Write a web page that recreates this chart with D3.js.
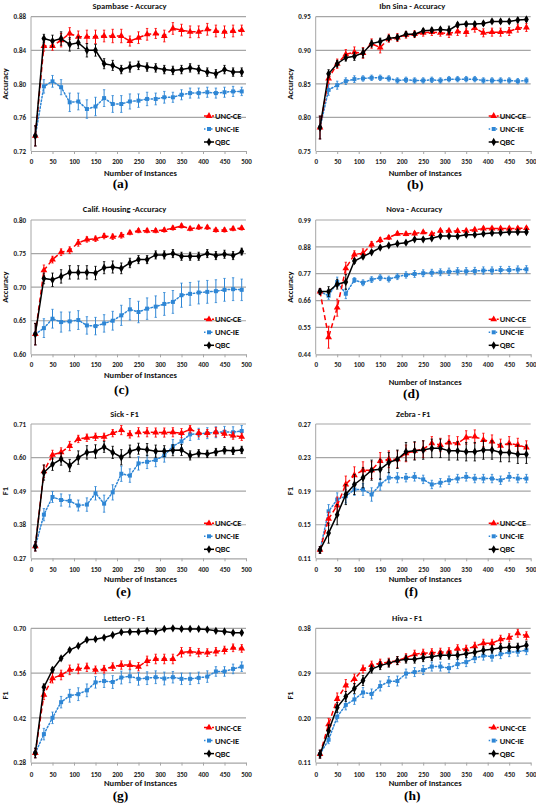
<!DOCTYPE html>
<html><head><meta charset="utf-8">
<script src="https://cdn.jsdelivr.net/npm/d3@7"></script>
<style>
html,body{margin:0;padding:0;background:#fff;}
svg{display:block;}
text{font-family:Calibri,Carlito,Lato,"Liberation Sans",sans-serif;}
</style></head>
<body>
<svg id="chart" width="536" height="803"></svg>
<script>
// ---------------- DATA ----------------
const xs = [10,30,50,70,90,110,130,150,170,190,210,230,250,270,290,310,330,350,370,390,410,430,450,470,490];
const xTicks = [0,50,100,150,200,250,300,350,400,450,500];
const seriesNames = ["UNC-CE","UNC-IE","QBC"];
const panelTitles = ["Spambase - Accuracy","Ibn Sina - Accuracy","Calif. Housing -Accuracy","Nova - Accuracy","Sick - F1","Zebra - F1","LetterO - F1","Hiva - F1"];
const panelLetters = ["(a)","(b)","(c)","(d)","(e)","(f)","(g)","(h)"];
const yLabels = ["Accuracy","Accuracy","Accuracy","Accuracy","F1","F1","F1","F1"];
const xLabel = "Number of Instances";

const aTicks = [0.72,0.76,0.80,0.84,0.88];
const bTicks = [0.75,0.80,0.85,0.90,0.95];
const cTicks = [0.60,0.65,0.70,0.75,0.80];
const dTicks = [0.44,0.55,0.66,0.77,0.88,0.99];
const eTicks = [0.27,0.38,0.49,0.60,0.71];
const fTicks = [0.11,0.15,0.19,0.23,0.27];
const gTicks = [0.28,0.42,0.56,0.70];
const hTicks = [0.11,0.20,0.29,0.38];

// (a) Spambase
const aCE  = [0.738,0.845,0.845,0.852,0.860,0.856,0.856,0.856,0.857,0.857,0.857,0.851,0.855,0.859,0.860,0.857,0.866,0.864,0.862,0.862,0.865,0.863,0.862,0.863,0.864];
const aIE  = [0.738,0.797,0.803,0.796,0.778,0.779,0.770,0.773,0.783,0.776,0.776,0.779,0.780,0.782,0.782,0.784,0.784,0.787,0.789,0.789,0.790,0.789,0.790,0.791,0.791];
const aQBC = [0.738,0.854,0.851,0.854,0.847,0.849,0.840,0.840,0.824,0.822,0.817,0.820,0.822,0.820,0.819,0.817,0.816,0.817,0.819,0.817,0.814,0.812,0.817,0.814,0.814];
const aCEerr  = [0.012,0.006,0.005,0.008,0.007,0.007,0.008,0.008,0.007,0.008,0.008,0.006,0.007,0.007,0.006,0.007,0.007,0.007,0.007,0.007,0.007,0.007,0.007,0.007,0.006];
const aIEerr  = [0.012,0.008,0.007,0.009,0.011,0.010,0.011,0.011,0.010,0.010,0.010,0.009,0.008,0.008,0.007,0.007,0.006,0.006,0.006,0.006,0.006,0.006,0.006,0.006,0.005];
const aQBCerr = [0.012,0.005,0.007,0.008,0.008,0.007,0.008,0.007,0.006,0.006,0.005,0.006,0.005,0.005,0.005,0.005,0.005,0.005,0.005,0.005,0.005,0.005,0.005,0.005,0.005];
// (b) Ibn Sina
const bCE  = [0.785,0.858,0.880,0.894,0.897,0.896,0.910,0.904,0.918,0.919,0.923,0.924,0.926,0.927,0.926,0.925,0.928,0.927,0.933,0.926,0.927,0.927,0.928,0.933,0.934];
const bIE  = [0.785,0.841,0.848,0.854,0.857,0.858,0.859,0.859,0.858,0.855,0.856,0.855,0.855,0.856,0.855,0.857,0.857,0.857,0.857,0.855,0.855,0.855,0.855,0.854,0.855];
const bQBC = [0.785,0.865,0.880,0.889,0.891,0.896,0.910,0.913,0.918,0.919,0.924,0.924,0.929,0.930,0.931,0.930,0.938,0.939,0.939,0.940,0.943,0.943,0.943,0.945,0.946];
const bCEerr  = [0.017,0.007,0.007,0.007,0.008,0.008,0.007,0.008,0.006,0.006,0.005,0.005,0.005,0.005,0.005,0.006,0.006,0.006,0.006,0.006,0.006,0.006,0.006,0.006,0.006];
const bIEerr  = [0.017,0.008,0.006,0.005,0.005,0.004,0.004,0.004,0.004,0.004,0.004,0.004,0.004,0.004,0.004,0.004,0.004,0.004,0.004,0.004,0.004,0.004,0.004,0.004,0.004];
const bQBCerr = [0.017,0.006,0.005,0.005,0.006,0.007,0.005,0.005,0.004,0.004,0.003,0.003,0.003,0.003,0.003,0.006,0.003,0.003,0.003,0.003,0.003,0.003,0.003,0.003,0.003];
// (c) Calif. Housing
const cCE  = [0.630,0.725,0.741,0.752,0.755,0.766,0.771,0.772,0.776,0.775,0.777,0.781,0.784,0.784,0.784,0.785,0.788,0.791,0.787,0.789,0.789,0.785,0.785,0.787,0.788];
const cIE  = [0.630,0.639,0.653,0.648,0.649,0.651,0.643,0.642,0.646,0.650,0.658,0.667,0.663,0.668,0.671,0.675,0.678,0.688,0.690,0.692,0.693,0.694,0.696,0.697,0.696];
const cQBC = [0.630,0.713,0.711,0.716,0.722,0.722,0.722,0.721,0.729,0.730,0.728,0.736,0.741,0.741,0.748,0.748,0.750,0.746,0.746,0.746,0.750,0.747,0.749,0.747,0.753];
const cCEerr  = [0.016,0.008,0.005,0.005,0.005,0.005,0.004,0.004,0.004,0.004,0.004,0.003,0.003,0.003,0.003,0.003,0.003,0.003,0.003,0.003,0.003,0.003,0.003,0.003,0.003];
const cIEerr  = [0.016,0.014,0.014,0.015,0.014,0.014,0.013,0.013,0.013,0.014,0.015,0.016,0.016,0.016,0.016,0.017,0.017,0.018,0.017,0.017,0.017,0.017,0.017,0.017,0.016];
const cQBCerr = [0.016,0.008,0.010,0.010,0.010,0.010,0.010,0.010,0.009,0.009,0.008,0.007,0.006,0.006,0.006,0.006,0.006,0.006,0.006,0.006,0.006,0.006,0.006,0.006,0.005];
// (d) Nova
const dCE  = [0.697,0.510,0.631,0.792,0.849,0.854,0.890,0.908,0.918,0.934,0.933,0.935,0.940,0.933,0.946,0.946,0.945,0.946,0.950,0.955,0.955,0.955,0.955,0.956,0.957];
const dIE  = [0.697,0.680,0.736,0.688,0.744,0.733,0.746,0.754,0.748,0.758,0.765,0.769,0.772,0.774,0.776,0.778,0.780,0.780,0.781,0.783,0.783,0.785,0.785,0.787,0.788];
const dQBC = [0.697,0.697,0.727,0.736,0.822,0.840,0.858,0.877,0.886,0.893,0.897,0.911,0.911,0.915,0.924,0.924,0.923,0.930,0.930,0.934,0.937,0.938,0.941,0.941,0.941];
const dCEerr  = [0.010,0.045,0.035,0.025,0.015,0.018,0.012,0.010,0.008,0.007,0.007,0.007,0.006,0.006,0.006,0.006,0.006,0.006,0.006,0.006,0.006,0.006,0.006,0.006,0.006];
const dIEerr  = [0.012,0.015,0.020,0.020,0.010,0.012,0.012,0.012,0.012,0.012,0.013,0.014,0.014,0.014,0.014,0.015,0.015,0.015,0.015,0.015,0.015,0.015,0.015,0.015,0.015];
const dQBCerr = [0.012,0.020,0.020,0.030,0.010,0.008,0.006,0.006,0.005,0.005,0.005,0.005,0.005,0.005,0.005,0.005,0.005,0.005,0.005,0.005,0.005,0.005,0.005,0.005,0.005];
// (e) Sick
const eCE  = [0.309,0.555,0.609,0.617,0.638,0.661,0.665,0.668,0.668,0.680,0.690,0.676,0.683,0.683,0.682,0.682,0.683,0.680,0.693,0.680,0.680,0.683,0.678,0.672,0.668];
const eIE  = [0.309,0.413,0.471,0.461,0.458,0.443,0.446,0.483,0.449,0.486,0.547,0.541,0.581,0.586,0.592,0.607,0.637,0.653,0.676,0.678,0.680,0.683,0.684,0.683,0.687];
const eQBC = [0.309,0.551,0.578,0.595,0.574,0.600,0.617,0.620,0.635,0.617,0.601,0.621,0.629,0.626,0.621,0.621,0.624,0.625,0.607,0.614,0.612,0.618,0.624,0.622,0.625];
const eCEerr  = [0.015,0.020,0.015,0.015,0.015,0.012,0.012,0.012,0.012,0.012,0.015,0.012,0.015,0.015,0.015,0.015,0.015,0.015,0.012,0.012,0.012,0.015,0.012,0.012,0.012];
const eIEerr  = [0.015,0.020,0.018,0.020,0.020,0.018,0.022,0.022,0.028,0.025,0.025,0.022,0.022,0.022,0.022,0.022,0.022,0.020,0.020,0.018,0.018,0.018,0.018,0.018,0.018];
const eQBCerr = [0.015,0.025,0.020,0.020,0.020,0.022,0.022,0.022,0.018,0.020,0.025,0.020,0.018,0.020,0.020,0.018,0.018,0.018,0.015,0.012,0.012,0.012,0.012,0.012,0.012];
// (f) Zebra
const fCE  = [0.120,0.157,0.173,0.198,0.209,0.215,0.215,0.226,0.228,0.228,0.235,0.238,0.240,0.247,0.245,0.248,0.247,0.254,0.255,0.251,0.249,0.244,0.247,0.245,0.242];
const fIE  = [0.120,0.166,0.180,0.184,0.192,0.192,0.186,0.198,0.206,0.206,0.206,0.207,0.204,0.198,0.200,0.203,0.205,0.207,0.205,0.205,0.205,0.203,0.207,0.205,0.205];
const fQBC = [0.120,0.140,0.162,0.186,0.198,0.206,0.215,0.216,0.224,0.228,0.237,0.238,0.239,0.241,0.241,0.238,0.238,0.237,0.237,0.239,0.239,0.236,0.236,0.234,0.234];
const fCEerr  = [0.004,0.008,0.010,0.010,0.010,0.010,0.010,0.010,0.010,0.010,0.010,0.010,0.010,0.008,0.008,0.008,0.008,0.008,0.008,0.008,0.008,0.008,0.008,0.008,0.008];
const fIEerr  = [0.004,0.008,0.008,0.008,0.007,0.007,0.008,0.007,0.006,0.006,0.005,0.005,0.005,0.005,0.005,0.005,0.005,0.005,0.005,0.005,0.005,0.005,0.005,0.005,0.005];
const fQBCerr = [0.004,0.012,0.012,0.012,0.012,0.012,0.012,0.012,0.012,0.011,0.011,0.011,0.011,0.011,0.011,0.011,0.011,0.011,0.011,0.011,0.011,0.011,0.011,0.011,0.011];
// (g) LetterO
const gCE  = [0.310,0.492,0.544,0.554,0.570,0.573,0.578,0.570,0.572,0.580,0.585,0.585,0.580,0.598,0.604,0.604,0.604,0.625,0.627,0.624,0.624,0.627,0.632,0.639,0.637];
const gIE  = [0.310,0.369,0.420,0.469,0.489,0.494,0.506,0.531,0.535,0.532,0.546,0.550,0.542,0.544,0.547,0.543,0.547,0.542,0.542,0.545,0.549,0.565,0.565,0.573,0.580];
const gQBC = [0.310,0.516,0.570,0.606,0.632,0.645,0.664,0.666,0.671,0.679,0.688,0.689,0.689,0.692,0.690,0.698,0.700,0.698,0.698,0.698,0.696,0.692,0.690,0.686,0.686];
const gCEerr  = [0.015,0.015,0.015,0.015,0.015,0.015,0.013,0.012,0.012,0.012,0.013,0.013,0.013,0.015,0.015,0.015,0.015,0.015,0.013,0.013,0.012,0.013,0.012,0.012,0.012];
const gIEerr  = [0.015,0.018,0.018,0.018,0.020,0.020,0.020,0.018,0.020,0.020,0.020,0.020,0.020,0.020,0.020,0.020,0.018,0.018,0.018,0.018,0.018,0.015,0.015,0.015,0.015];
const gQBCerr = [0.015,0.010,0.008,0.006,0.005,0.005,0.005,0.004,0.004,0.004,0.003,0.003,0.003,0.003,0.003,0.003,0.003,0.003,0.003,0.003,0.003,0.003,0.003,0.003,0.003];
// (h) Hiva
const hCE  = [0.127,0.187,0.238,0.265,0.278,0.298,0.306,0.310,0.312,0.315,0.321,0.328,0.330,0.331,0.332,0.333,0.339,0.338,0.344,0.350,0.350,0.358,0.361,0.370,0.365];
const hIE  = [0.127,0.156,0.202,0.226,0.237,0.251,0.248,0.264,0.273,0.274,0.289,0.292,0.296,0.303,0.303,0.300,0.308,0.312,0.320,0.325,0.323,0.328,0.332,0.333,0.336];
const hQBC = [0.127,0.174,0.221,0.243,0.259,0.275,0.298,0.305,0.310,0.315,0.318,0.318,0.321,0.323,0.326,0.326,0.326,0.329,0.332,0.336,0.338,0.341,0.342,0.342,0.346];
const hCEerr  = [0.008,0.012,0.012,0.012,0.010,0.008,0.008,0.008,0.008,0.008,0.008,0.008,0.008,0.008,0.008,0.008,0.008,0.008,0.008,0.008,0.008,0.008,0.008,0.008,0.008];
const hIEerr  = [0.008,0.008,0.010,0.010,0.010,0.010,0.010,0.010,0.010,0.010,0.009,0.009,0.009,0.009,0.009,0.009,0.009,0.009,0.009,0.009,0.009,0.009,0.009,0.009,0.009];
const hQBCerr = [0.008,0.012,0.010,0.010,0.010,0.010,0.008,0.008,0.008,0.008,0.008,0.008,0.008,0.008,0.008,0.008,0.008,0.008,0.008,0.008,0.008,0.008,0.008,0.008,0.008];

// ---------------- ASSEMBLY ----------------
const panelData = [
  {ticks:aTicks, ce:aCE, ie:aIE, qbc:aQBC, ceE:aCEerr, ieE:aIEerr, qbcE:aQBCerr},
  {ticks:bTicks, ce:bCE, ie:bIE, qbc:bQBC, ceE:bCEerr, ieE:bIEerr, qbcE:bQBCerr},
  {ticks:cTicks, ce:cCE, ie:cIE, qbc:cQBC, ceE:cCEerr, ieE:cIEerr, qbcE:cQBCerr},
  {ticks:dTicks, ce:dCE, ie:dIE, qbc:dQBC, ceE:dCEerr, ieE:dIEerr, qbcE:dQBCerr},
  {ticks:eTicks, ce:eCE, ie:eIE, qbc:eQBC, ceE:eCEerr, ieE:eIEerr, qbcE:eQBCerr},
  {ticks:fTicks, ce:fCE, ie:fIE, qbc:fQBC, ceE:fCEerr, ieE:fIEerr, qbcE:fQBCerr},
  {ticks:gTicks, ce:gCE, ie:gIE, qbc:gQBC, ceE:gCEerr, ieE:gIEerr, qbcE:gQBCerr},
  {ticks:hTicks, ce:hCE, ie:hIE, qbc:hQBC, ceE:hCEerr, ieE:hIEerr, qbcE:hQBCerr}
];

// ---------------- LAYOUT ----------------
const colLeft = [31, 315.7];
const plotW = 215;
const rowTop = [16.7, 220, 424, 628.3];
const plotH = 134.3;
const titleY = [8.5, 211.5, 416.5, 620.5];
const titleDX = [-9, -11, -14, -9, -14, -10, -14, -16];
const tickLabelY = [163.5, 367, 572, 777];
const xLabelY = [175.5, 175.5, 377.5, 385, 582, 582, 785.5, 785.5];
const letterY = [188, 189, 394, 398, 596, 596, 800, 800];
const letterDX = [-18, -8, -17, -12, -15, -12, -18, -11];

const RED = "#ff0000", BLUE = "#2e86d5", BLACK = "#000000", GRID = "#a6a6a6";
const seriesStyle = {
  "UNC-CE": {color:RED, dash:"5,3", sym:d3.symbolTriangle, size:20},
  "UNC-IE": {color:BLUE, dash:"1.5,2", sym:d3.symbolSquare, size:16},
  "QBC":    {color:BLACK, dash:null, sym:d3.symbolDiamond, size:20}
};

const svg = d3.select("#chart");

panelData.forEach((pd, i) => {
  const col = i % 2, row = Math.floor(i / 2);
  const left = colLeft[col], top = rowTop[row];
  const g = svg.append("g").attr("transform", `translate(${left},${top})`);
  const x = d3.scaleLinear().domain([0, 500]).range([0, plotW]);
  const y = d3.scaleLinear().domain([pd.ticks[0], pd.ticks[pd.ticks.length-1]]).range([plotH, 0]);

  // gridlines
  g.append("g").selectAll("line").data(pd.ticks.slice(1)).join("line")
    .attr("x1", 0).attr("x2", plotW)
    .attr("y1", d => y(d)).attr("y2", d => y(d))
    .attr("stroke", GRID).attr("stroke-width", 1.2);
  // left axis line
  g.append("line").attr("x1", 0).attr("x2", 0).attr("y1", 0).attr("y2", plotH)
    .attr("stroke", GRID).attr("stroke-width", 1);

  // x axis
  const xa = g.append("g").attr("transform", `translate(0,${plotH})`)
    .call(d3.axisBottom(x).tickValues(xTicks).tickSize(3).tickSizeOuter(0).tickPadding(2).tickFormat(d3.format("d")));
  xa.select(".domain").attr("stroke", GRID).attr("stroke-width", 1.2);
  xa.selectAll(".tick line").attr("stroke", GRID);
  xa.selectAll(".tick text").attr("font-size", 7).attr("font-weight", "bold").attr("fill", "#222")
    .attr("y", null).attr("dy", null)
    .attr("transform", `translate(0,${tickLabelY[row] - top - plotH})`);

  // y axis
  const ya = g.append("g")
    .call(d3.axisLeft(y).tickValues(pd.ticks).tickSize(0).tickPadding(5).tickFormat(d3.format(".2f")));
  ya.select(".domain").remove();
  ya.selectAll(".tick text").attr("font-size", 7).attr("font-weight", "bold").attr("fill", "#222");

  // series
  const series = [
    {name:"UNC-IE", vals:pd.ie, err:pd.ieE},
    {name:"UNC-CE", vals:pd.ce, err:pd.ceE},
    {name:"QBC", vals:pd.qbc, err:pd.qbcE}
  ];
  series.forEach(s => {
    const st = seriesStyle[s.name];
    const pts = xs.map((xv, k) => ({x:xv, v:s.vals[k], e:s.err[k]}));
    const eb = g.append("g");
    eb.selectAll("line.eb").data(pts).join("line")
      .attr("x1", d => x(d.x)).attr("x2", d => x(d.x))
      .attr("y1", d => y(d.v - d.e)).attr("y2", d => y(d.v + d.e))
      .attr("stroke", st.color).attr("stroke-width", 1);
    eb.selectAll("line.cap1").data(pts).join("line")
      .attr("x1", d => x(d.x) - 1.2).attr("x2", d => x(d.x) + 1.2)
      .attr("y1", d => y(d.v + d.e)).attr("y2", d => y(d.v + d.e))
      .attr("stroke", st.color).attr("stroke-width", 0.8);
    eb.selectAll("line.cap2").data(pts).join("line")
      .attr("x1", d => x(d.x) - 1.2).attr("x2", d => x(d.x) + 1.2)
      .attr("y1", d => y(d.v - d.e)).attr("y2", d => y(d.v - d.e))
      .attr("stroke", st.color).attr("stroke-width", 0.8);
    g.append("path").datum(pts)
      .attr("d", d3.line().x(d => x(d.x)).y(d => y(d.v)))
      .attr("fill", "none").attr("stroke", st.color).attr("stroke-width", 1.5)
      .attr("stroke-dasharray", st.dash).attr("stroke-linecap", s.name === "UNC-IE" ? "round" : "butt");
    g.append("g").selectAll("path").data(pts).join("path")
      .attr("d", d3.symbol().type(st.sym).size(st.size))
      .attr("transform", d => `translate(${x(d.x)},${y(d.v)})`)
      .attr("fill", st.color);
  });

  // legend
  const legOff = [35, 22, 9];
  const lg = g.append("g").attr("transform", `translate(${x(0) + 173},0)`);
  seriesNames.forEach((nm, k) => {
    const st = seriesStyle[nm];
    const ly = plotH - legOff[k];
    lg.append("line").attr("x1", 0).attr("x2", 10).attr("y1", ly).attr("y2", ly)
      .attr("stroke", st.color).attr("stroke-width", 1.5).attr("stroke-dasharray", st.dash);
    lg.append("path").attr("d", d3.symbol().type(st.sym).size(st.size))
      .attr("transform", `translate(5,${ly})`).attr("fill", st.color);
    lg.append("text").attr("x", 11).attr("y", ly).attr("dy", "0.35em")
      .attr("font-size", 8.5).attr("font-weight", "bold").attr("fill", "#111").text(nm);
  });

  // title
  svg.append("text").attr("x", left + plotW/2 + titleDX[i]).attr("y", titleY[row])
    .attr("text-anchor", "middle").attr("font-size", 8.5).attr("font-weight", "bold").attr("fill", "#111")
    .text(panelTitles[i]);
  // y label
  svg.append("text").attr("transform", `translate(${left - 23},${top + plotH/2}) rotate(-90)`)
    .attr("text-anchor", "middle").attr("font-size", 8.5).attr("font-weight", "bold").attr("fill", "#111")
    .text(yLabels[i]);
  // x label
  svg.append("text").attr("x", left + plotW/2 + 2).attr("y", xLabelY[i])
    .attr("text-anchor", "middle").attr("font-size", 8.5).attr("font-weight", "bold").attr("fill", "#111")
    .text(xLabel);
  // letter
  svg.append("text").attr("x", left + plotW/2 + letterDX[i]).attr("y", letterY[i])
    .attr("text-anchor", "middle").attr("font-size", 13.5).attr("font-weight", "bold").attr("fill", "#000")
    .style("font-family", "'Liberation Serif','DejaVu Serif',serif")
    .text(panelLetters[i]);
});
</script>
</body></html>
